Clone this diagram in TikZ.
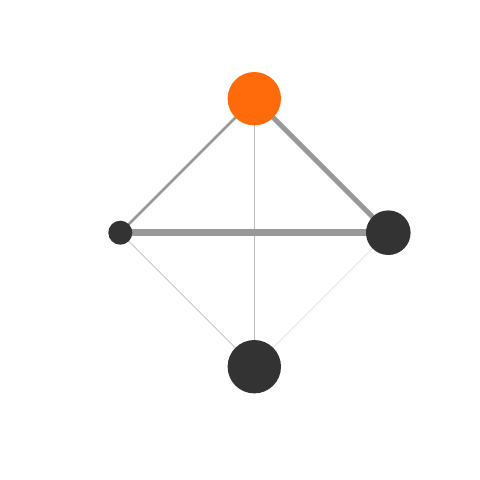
\documentclass[tikz,border=0pt]{standalone}
\usetikzlibrary{backgrounds}
\definecolor{orangeN}{HTML}{FF6B0B}
\definecolor{darkN}{HTML}{333333}
\definecolor{edgeA}{HTML}{999999}
\definecolor{edgeB}{HTML}{BBBBBB}
\definecolor{edgeC}{HTML}{CCCCCC}
\definecolor{edgeD}{HTML}{E6E6E6}
\begin{document}
\begin{tikzpicture}[x=1pt,y=-1pt,
  vert/.style={circle,inner sep=0pt,outer sep=0pt,draw=none,fill=darkN},
  link/.style={line cap=butt}]
\useasboundingbox (0,0) rectangle (480,480);
\node[vert,fill=orangeN,minimum size=53.4pt] (t) at (254.3,98.7) {};
\node[vert,minimum size=24pt] (l) at (120.3,232.7) {};
\node[vert,minimum size=44.6pt] (r) at (388.3,232.7) {};
\node[vert,minimum size=53.4pt] (b) at (254.3,366.7) {};
\begin{scope}[on background layer]
\draw[link,edgeD,line width=1pt] (r.center) -- (b.center);
\draw[link,edgeC,line width=1pt] (l.center) -- (b.center);
\draw[link,edgeB,line width=1pt] (t.center) -- (b.center);
\draw[link,edgeA,line width=2.5pt] (t.center) -- (l.center);
\draw[link,edgeA,line width=5pt] (t.center) -- (r.center);
\draw[link,edgeA,line width=7pt] (l.center) -- (r.center);
\end{scope}
\end{tikzpicture}
\end{document}
